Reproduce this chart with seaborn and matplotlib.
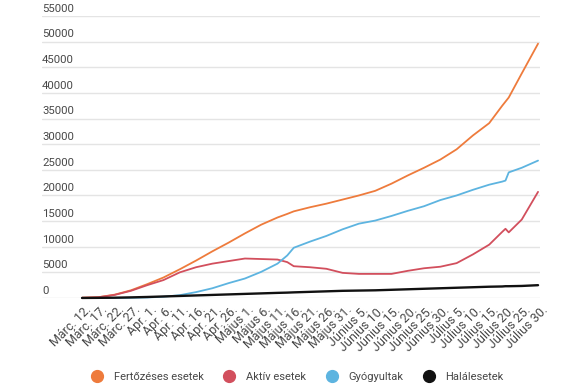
import matplotlib
matplotlib.use("Agg")
import matplotlib.pyplot as plt
import matplotlib.transforms as mtransforms
from matplotlib.lines import Line2D
import seaborn as sns
import pandas as pd

# ---- data ----
dates = ["2020-03-12", "2020-03-17", "2020-03-22", "2020-03-27", "2020-04-01",
         "2020-04-06", "2020-04-11", "2020-04-16", "2020-04-21", "2020-04-26",
         "2020-05-01", "2020-05-06", "2020-05-11", "2020-05-14", "2020-05-16",
         "2020-05-21", "2020-05-26", "2020-05-31", "2020-06-05", "2020-06-10",
         "2020-06-15", "2020-06-20", "2020-06-25", "2020-06-30", "2020-07-05",
         "2020-07-10", "2020-07-15", "2020-07-19", "2020-07-20", "2020-07-21",
         "2020-07-25", "2020-07-30"]

fertozeses = [50, 150, 650, 1500, 2700, 4000, 5600, 7300, 9100, 10800,
              12600, 14300, 15700, 16400, 16900, 17700, 18400, 19200, 20000, 20900,
              22300, 23900, 25400, 27000, 29000, 31700, 34100, 37500, 38300, 39100,
              43800, 49600]
aktiv = [50, 150, 600, 1400, 2500, 3500, 5000, 6000, 6700, 7200,
         7700, 7600, 7500, 7000, 6200, 6000, 5700, 4900, 4700, 4700,
         4700, 5300, 5800, 6100, 6800, 8500, 10400, 12900, 13500, 12800,
         15300, 20700]
gyogyult = [0, 0, 10, 50, 100, 250, 550, 1150, 1900, 2900,
            3800, 5100, 6700, 8300, 9800, 11000, 12100, 13400, 14500, 15100,
            16000, 17000, 17900, 19100, 20000, 21100, 22100, 22700, 22900, 24500,
            25400, 26800]
halal = [10, 30, 60, 120, 200, 300, 400, 500, 600, 700,
         800, 900, 1000, 1050, 1100, 1200, 1300, 1400, 1450, 1500,
         1600, 1700, 1800, 1900, 2000, 2100, 2200, 2250, 2300, 2300,
         2350, 2500]

series_names = ["Fertőzéses esetek", "Aktív esetek", "Gyógyultak", "Halálesetek"]
colors = ["#EE7B3C", "#D24F5D", "#5DB4E0", "#111111"]

tick_dates = ["2020-03-12", "2020-03-17", "2020-03-22", "2020-03-27", "2020-04-01",
              "2020-04-06", "2020-04-11", "2020-04-16", "2020-04-21", "2020-04-26",
              "2020-05-01", "2020-05-06", "2020-05-11", "2020-05-16", "2020-05-21",
              "2020-05-26", "2020-05-31", "2020-06-05", "2020-06-10", "2020-06-15",
              "2020-06-20", "2020-06-25", "2020-06-30", "2020-07-05", "2020-07-10",
              "2020-07-15", "2020-07-20", "2020-07-25", "2020-07-30"]
tick_labels = ["Márc. 12.", "Márc. 17.", "Márc. 22.", "Márc. 27.", "Apr. 1.",
               "Apr. 6.", "Apr. 11.", "Apr. 16.", "Apr. 21.", "Apr. 26.",
               "Május 1.", "Május 6.", "Május 11.", "Május 16.", "Május 21.",
               "Május 26.", "Május 31.", "Június 5.", "Június 10.", "Június 15.",
               "Június 20.", "Június 25.", "Június 30.", "Július 5.", "Július 10.",
               "Július 15.", "Július 20.", "Július 25.", "Július 30."]
y_ticks = [0, 5000, 10000, 15000, 20000, 25000, 30000, 35000, 40000, 45000, 50000, 55000]

# ---- build long table ----
frames = []
for name, vals in zip(series_names, [fertozeses, aktiv, gyogyult, halal]):
    frames.append(pd.DataFrame({"date": pd.to_datetime(dates), "value": vals, "series": name}))
df = pd.concat(frames, ignore_index=True)

sns.set_theme(style="white")
plt.rcParams["font.family"] = ["Roboto", "DejaVu Sans"]

fig = plt.figure(figsize=(5.75, 3.87), dpi=100)
ax = fig.add_axes([42 / 575, 89 / 387, 498 / 575, 282 / 387])

sns.lineplot(data=df, x="date", y="value", hue="series", hue_order=series_names,
             palette=dict(zip(series_names, colors)), legend=False, ax=ax,
             linewidth=1.3, clip_on=False)
ax.lines[-1].set_linewidth(1.7)

start = pd.Timestamp(dates[0])
ax.set_xlim(start - pd.Timedelta(days=12.3), start + pd.Timedelta(days=140.6))
ax.set_ylim(0, 55000)

for s in ax.spines.values():
    s.set_visible(False)
ax.set_xlabel("")
ax.set_ylabel("")

txt_color = "#484848"
ax.set_yticks(y_ticks)
ax.set_yticklabels([str(v) for v in y_ticks])
ax.grid(axis="y", color="#e4e4e4", linewidth=1.0)
ax.grid(axis="x", visible=False)
ax.set_axisbelow(True)
ax.tick_params(axis="y", length=0, pad=0, labelsize=8.2, labelcolor=txt_color)
for lab in ax.get_yticklabels():
    lab.set_horizontalalignment("left")
    lab.set_verticalalignment("baseline")
    lab.set_transform(lab.get_transform() +
                      mtransforms.ScaledTranslation(0, 3 / 72, fig.dpi_scale_trans))

ax.set_xticks(pd.to_datetime(tick_dates))
ax.set_xticklabels(tick_labels, rotation=45, ha="right", rotation_mode="anchor")
ax.tick_params(axis="x", length=0, pad=4, labelsize=9, labelcolor=txt_color)
for lab in ax.get_xticklabels():
    lab.set_transform(lab.get_transform() +
                      mtransforms.ScaledTranslation(2 / 72, 0, fig.dpi_scale_trans))

handles = [Line2D([0], [0], marker="o", linestyle="", markersize=8.5,
                  markerfacecolor=c, markeredgecolor=c) for c in colors]
fig.legend(handles, series_names, loc="center", bbox_to_anchor=(0.513, 1 - 377 / 387),
           ncol=4, frameon=False, fontsize=8, handletextpad=0.5, columnspacing=1.3,
           labelcolor=txt_color)

fig.savefig("out.png", dpi=100)
